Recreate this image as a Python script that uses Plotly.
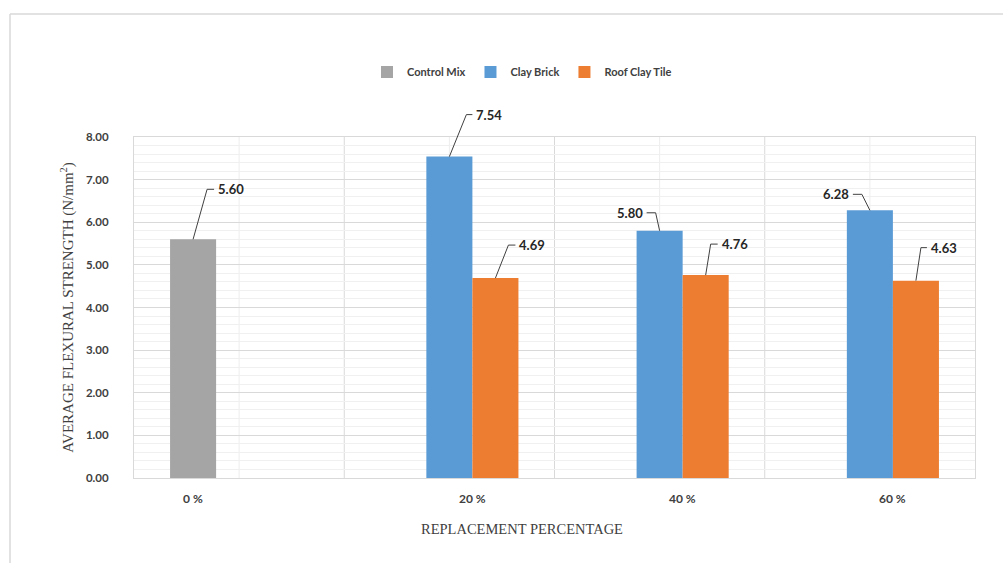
import plotly.graph_objects as go

# ---- data ----
categories = ["0 %", "20 %", "40 %", "60 %"]
series_names = ["Control Mix", "Clay Brick", "Roof Clay Tile"]
control_mix = [5.60, None, None, None]
clay_brick = [None, 7.54, 5.80, 6.28]
roof_clay_tile = [None, 4.69, 4.76, 4.63]
series_values = [control_mix, clay_brick, roof_clay_tile]
y_ticks = [0, 1, 2, 3, 4, 5, 6, 7, 8]
y_range = [0, 8]

# ---- styles ----
colors = ["#A5A5A5", "#5B9BD5", "#ED7D31"]
bar_w = 0.219  # bar width in category units
# leader-line styles per series/category: (dx, dy, hx) in pixels
leader = {
    (0, 0): (14, 50, 7),
    (1, 1): (17, 42, 6),
    (2, 1): (13, 33, 7),
    (1, 2): (-4, 18, -9),
    (2, 2): (5, 31, 7),
    (1, 3): (-8, 16, -9),
    (2, 3): (5, 33, 6),
}
label_font = dict(family="Lato", size=13, color="#262626")

fig = go.Figure()
tick_pos = []
for ci in range(len(categories)):
    present = [si for si in range(len(series_names)) if series_values[si][ci] is not None]
    xs = [ci + (si - 1) * bar_w for si in present]
    tick_pos.append(sum(xs) / len(xs))

for si, name in enumerate(series_names):
    xs, ys = [], []
    for ci, v in enumerate(series_values[si]):
        if v is not None:
            xs.append(ci + (si - 1) * bar_w)
            ys.append(v)
    fig.add_trace(go.Bar(x=xs, y=ys, name=f"<b>{name}</b>", width=bar_w,
                         marker=dict(color=colors[si], line=dict(width=0)),
                         hoverinfo="y"))

shapes = []
annotations = []
# vertical gridlines (boundaries major, centres minor)
for ci in range(len(categories)):
    shapes.append(dict(type="line", xref="x", yref="paper", x0=ci, x1=ci, y0=0, y1=1,
                       line=dict(color="#EDEDED", width=1), layer="below"))
    if ci < len(categories) - 1:
        shapes.append(dict(type="line", xref="x", yref="paper", x0=ci + 0.5, x1=ci + 0.5,
                           y0=0, y1=1, line=dict(color="#D9D9D9", width=1), layer="below"))

# data labels with leader lines
for si in range(len(series_names)):
    for ci, v in enumerate(series_values[si]):
        if v is None:
            continue
        x = ci + (si - 1) * bar_w
        dx, dy, hx = leader[(si, ci)]
        yfrac = (v - y_range[0]) / (y_range[1] - y_range[0])
        shapes.append(dict(type="path", xref="x", yref="paper",
                           xsizemode="pixel", ysizemode="pixel",
                           xanchor=x, yanchor=yfrac,
                           path=f"M0,0 L{dx},{dy} L{dx + hx},{dy}",
                           line=dict(color="#404040", width=1)))
        annotations.append(dict(x=x, y=v, xref="x", yref="y", text=f"<b>{v:.2f}</b>",
                                showarrow=False, xanchor="left" if hx > 0 else "right",
                                yanchor="middle",
                                xshift=dx + hx + (2 if hx > 0 else -2), yshift=dy,
                                font=label_font))

# x tick labels under the bars
for ci, lab in enumerate(categories):
    annotations.append(dict(x=tick_pos[ci], y=0, xref="x", yref="y", text=f"<b>{lab}</b>",
                            showarrow=False, yanchor="top", yshift=-11,
                            font=dict(family="Lato", size=12, color="#404040")))

# x axis title
annotations.append(dict(x=(522 - 134) / 841, y=-0.15, xref="paper", yref="paper",
                        text="REPLACEMENT PERCENTAGE", showarrow=False,
                        yanchor="middle", xanchor="center",
                        font=dict(family="Liberation Serif", size=14.5, color="#404040")))

# outer chart border (top and left edges)
bx0 = (10 - 134) / 841
by1 = (478 - 14) / 341
shapes.append(dict(type="line", xref="paper", yref="paper", x0=bx0, x1=(1003 - 134) / 841,
                   y0=by1, y1=by1, line=dict(color="#D9D9D9", width=1.5), layer="below"))
shapes.append(dict(type="line", xref="paper", yref="paper", x0=bx0, x1=bx0,
                   y0=(478 - 563) / 341, y1=by1, line=dict(color="#D9D9D9", width=1.5),
                   layer="below"))

fig.update_layout(
    width=1003, height=563,
    margin=dict(l=134, r=28, t=137, b=85),
    paper_bgcolor="white", plot_bgcolor="white",
    barmode="overlay",
    showlegend=True,
    legend=dict(orientation="h", x=(522 - 134) / 841, xanchor="center",
                y=(478 - 72) / 341, yanchor="middle",
                font=dict(family="Lato", size=11, color="#404040"),
                itemwidth=30, traceorder="normal"),
    shapes=shapes,
    annotations=annotations,
    xaxis=dict(range=[-0.5, 3.5], showgrid=False, zeroline=False,
               showticklabels=False, ticks="",
               showline=True, linecolor="#D9D9D9", mirror=True, fixedrange=True),
    yaxis=dict(range=y_range, tickvals=y_ticks,
               ticktext=[f"<b>{t:.2f}</b>" for t in y_ticks],
               tickfont=dict(family="Lato", size=11.5, color="#404040"),
               gridcolor="#D9D9D9", gridwidth=1, zeroline=False,
               showline=True, linecolor="#D9D9D9", mirror=True,
               ticks="outside", ticklen=22, tickcolor="rgba(0,0,0,0)",
               minor=dict(dtick=0.2, showgrid=True, gridcolor="#F0F0F0"),
               title=dict(text="AVERAGE FLEXURAL STRENGTH (N/mm<sup>2</sup>)",
                          font=dict(family="Liberation Serif", size=15, color="#404040"),
                          standoff=8)),
)

fig.write_html("out.html")
